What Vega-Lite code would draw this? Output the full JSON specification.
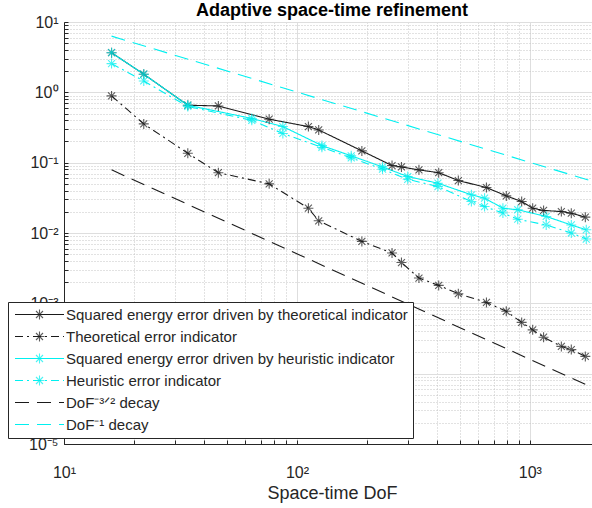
{
  "$schema": "https://vega.github.io/schema/vega-lite/v6.json",
  "width": 536,
  "height": 422,
  "autosize": {"type": "none"},
  "padding": {"left": 64, "top": 22, "right": 0, "bottom": 64},
  "background": "white",
  "config": {"view": {"stroke": "#262626", "strokeWidth": 1}, "font": "Liberation Sans"},
  "title": {"text": "Adaptive space-time refinement", "fontSize": 18, "fontWeight": "bold", "font": "Liberation Sans", "color": "#000000", "anchor": "middle", "baseline": "alphabetic", "offset": 1, "dy": 21, "frame": "group"},
  "data": {"values": [
    {"s": "Squared energy error driven by theoretical indicator", "x": 16, "y": 3.66},
    {"s": "Squared energy error driven by theoretical indicator", "x": 22, "y": 1.81},
    {"s": "Squared energy error driven by theoretical indicator", "x": 34, "y": 0.656},
    {"s": "Squared energy error driven by theoretical indicator", "x": 46, "y": 0.64},
    {"s": "Squared energy error driven by theoretical indicator", "x": 76, "y": 0.415},
    {"s": "Squared energy error driven by theoretical indicator", "x": 112, "y": 0.326},
    {"s": "Squared energy error driven by theoretical indicator", "x": 124, "y": 0.292},
    {"s": "Squared energy error driven by theoretical indicator", "x": 190, "y": 0.147},
    {"s": "Squared energy error driven by theoretical indicator", "x": 256, "y": 0.091},
    {"s": "Squared energy error driven by theoretical indicator", "x": 281, "y": 0.087},
    {"s": "Squared energy error driven by theoretical indicator", "x": 334, "y": 0.079},
    {"s": "Squared energy error driven by theoretical indicator", "x": 406, "y": 0.072},
    {"s": "Squared energy error driven by theoretical indicator", "x": 493, "y": 0.0557},
    {"s": "Squared energy error driven by theoretical indicator", "x": 651, "y": 0.0443},
    {"s": "Squared energy error driven by theoretical indicator", "x": 792, "y": 0.0337},
    {"s": "Squared energy error driven by theoretical indicator", "x": 922, "y": 0.028},
    {"s": "Squared energy error driven by theoretical indicator", "x": 1028, "y": 0.0225},
    {"s": "Squared energy error driven by theoretical indicator", "x": 1145, "y": 0.0209},
    {"s": "Squared energy error driven by theoretical indicator", "x": 1365, "y": 0.0202},
    {"s": "Squared energy error driven by theoretical indicator", "x": 1506, "y": 0.0191},
    {"s": "Squared energy error driven by theoretical indicator", "x": 1730, "y": 0.0168},
    {"s": "Theoretical error indicator", "x": 16, "y": 0.89},
    {"s": "Theoretical error indicator", "x": 22, "y": 0.356},
    {"s": "Theoretical error indicator", "x": 34, "y": 0.136},
    {"s": "Theoretical error indicator", "x": 46, "y": 0.072},
    {"s": "Theoretical error indicator", "x": 76, "y": 0.05},
    {"s": "Theoretical error indicator", "x": 112, "y": 0.0225},
    {"s": "Theoretical error indicator", "x": 124, "y": 0.0149},
    {"s": "Theoretical error indicator", "x": 190, "y": 0.0076},
    {"s": "Theoretical error indicator", "x": 256, "y": 0.0052},
    {"s": "Theoretical error indicator", "x": 281, "y": 0.0038},
    {"s": "Theoretical error indicator", "x": 334, "y": 0.00229},
    {"s": "Theoretical error indicator", "x": 406, "y": 0.0018},
    {"s": "Theoretical error indicator", "x": 493, "y": 0.00137},
    {"s": "Theoretical error indicator", "x": 651, "y": 0.00103},
    {"s": "Theoretical error indicator", "x": 792, "y": 0.00077},
    {"s": "Theoretical error indicator", "x": 922, "y": 0.000536},
    {"s": "Theoretical error indicator", "x": 1028, "y": 0.00042},
    {"s": "Theoretical error indicator", "x": 1145, "y": 0.00033},
    {"s": "Theoretical error indicator", "x": 1365, "y": 0.000244},
    {"s": "Theoretical error indicator", "x": 1506, "y": 0.00022},
    {"s": "Theoretical error indicator", "x": 1730, "y": 0.000176},
    {"s": "Squared energy error driven by heuristic indicator", "x": 16, "y": 3.66},
    {"s": "Squared energy error driven by heuristic indicator", "x": 22, "y": 1.81},
    {"s": "Squared energy error driven by heuristic indicator", "x": 34, "y": 0.656},
    {"s": "Squared energy error driven by heuristic indicator", "x": 64, "y": 0.425},
    {"s": "Squared energy error driven by heuristic indicator", "x": 87, "y": 0.326},
    {"s": "Squared energy error driven by heuristic indicator", "x": 128, "y": 0.175},
    {"s": "Squared energy error driven by heuristic indicator", "x": 171, "y": 0.125},
    {"s": "Squared energy error driven by heuristic indicator", "x": 233, "y": 0.087},
    {"s": "Squared energy error driven by heuristic indicator", "x": 299, "y": 0.0635},
    {"s": "Squared energy error driven by heuristic indicator", "x": 403, "y": 0.051},
    {"s": "Squared energy error driven by heuristic indicator", "x": 561, "y": 0.0349},
    {"s": "Squared energy error driven by heuristic indicator", "x": 639, "y": 0.0313},
    {"s": "Squared energy error driven by heuristic indicator", "x": 766, "y": 0.0225},
    {"s": "Squared energy error driven by heuristic indicator", "x": 887, "y": 0.0214},
    {"s": "Squared energy error driven by heuristic indicator", "x": 1175, "y": 0.0172},
    {"s": "Squared energy error driven by heuristic indicator", "x": 1506, "y": 0.013},
    {"s": "Squared energy error driven by heuristic indicator", "x": 1746, "y": 0.0111},
    {"s": "Heuristic error indicator", "x": 16, "y": 2.56},
    {"s": "Heuristic error indicator", "x": 22, "y": 1.45},
    {"s": "Heuristic error indicator", "x": 34, "y": 0.63},
    {"s": "Heuristic error indicator", "x": 64, "y": 0.4},
    {"s": "Heuristic error indicator", "x": 87, "y": 0.26},
    {"s": "Heuristic error indicator", "x": 128, "y": 0.165},
    {"s": "Heuristic error indicator", "x": 171, "y": 0.117},
    {"s": "Heuristic error indicator", "x": 233, "y": 0.081},
    {"s": "Heuristic error indicator", "x": 299, "y": 0.058},
    {"s": "Heuristic error indicator", "x": 403, "y": 0.0457},
    {"s": "Heuristic error indicator", "x": 561, "y": 0.028},
    {"s": "Heuristic error indicator", "x": 639, "y": 0.0238},
    {"s": "Heuristic error indicator", "x": 766, "y": 0.0192},
    {"s": "Heuristic error indicator", "x": 887, "y": 0.0157},
    {"s": "Heuristic error indicator", "x": 1175, "y": 0.013},
    {"s": "Heuristic error indicator", "x": 1506, "y": 0.01},
    {"s": "Heuristic error indicator", "x": 1746, "y": 0.0082},
    {"s": "DoF⁻³ᐟ² decay", "x": 16, "y": 0.079},
    {"s": "DoF⁻³ᐟ² decay", "x": 2000, "y": 0.0000566},
    {"s": "DoF⁻¹ decay", "x": 16, "y": 6.3},
    {"s": "DoF⁻¹ decay", "x": 2000, "y": 0.0505}
  ]},
  "layer": [
    {
      "mark": {"type": "line", "strokeWidth": 1.1, "clip": true},
      "encoding": {
        "x": {"field": "x", "type": "quantitative",
          "scale": {"type": "log", "domain": [10, 2000], "nice": false},
          "axis": {
            "values": [10,20,30,40,50,60,70,80,90,100,200,300,400,500,600,700,800,900,1000,2000],
            "labelExpr": "abs(log(datum.value)/LN10 - round(log(datum.value)/LN10)) < 0.001 ? '10' + ['⁻⁵','⁻⁴','⁻³','⁻²','⁻¹','⁰','¹','²','³','⁴'][round(log(datum.value)/LN10)+5] : ''",
            "title": "Space-time DoF", "titleFontSize": 18, "titleFont": "Liberation Sans", "titleColor": "#262626", "titleFontWeight": "normal",
            "titleY": 54, "titleBaseline": "alphabetic",
            "labelFontSize": 16, "labelFont": "Liberation Sans", "labelColor": "#262626", "labelBaseline": "alphabetic", "labelPadding": 37,
            "labelFlush": false, "labelOverlap": false,
            "tickSize": -4, "tickColor": "#262626", "domainColor": "#262626",
            "grid": true,
            "gridColor": {"condition": {"test": "abs(log(datum.value)/LN10 - round(log(datum.value)/LN10)) < 0.001", "value": "#dedede"}, "value": "#c4c4c4"},
            "gridDash": {"condition": {"test": "abs(log(datum.value)/LN10 - round(log(datum.value)/LN10)) < 0.001", "value": []}, "value": [1, 2]}
          }
        },
        "y": {"field": "y", "type": "quantitative",
          "scale": {"type": "log", "domain": [0.00001, 10], "nice": false},
          "axis": {
            "values": [1e-5,2e-5,3e-5,4e-5,5e-5,6e-5,7e-5,8e-5,9e-5,1e-4,2e-4,3e-4,4e-4,5e-4,6e-4,7e-4,8e-4,9e-4,1e-3,2e-3,3e-3,4e-3,5e-3,6e-3,7e-3,8e-3,9e-3,0.01,0.02,0.03,0.04,0.05,0.06,0.07,0.08,0.09,0.1,0.2,0.3,0.4,0.5,0.6,0.7,0.8,0.9,1,2,3,4,5,6,7,8,9,10],
            "labelExpr": "abs(log(datum.value)/LN10 - round(log(datum.value)/LN10)) < 0.001 ? '10' + ['⁻⁵','⁻⁴','⁻³','⁻²','⁻¹','⁰','¹','²','³','⁴'][round(log(datum.value)/LN10)+5] : ''",
            "title": null,
            "labelFontSize": 16, "labelFont": "Liberation Sans", "labelColor": "#262626", "labelPadding": 10,
            "labelFlush": false, "labelOverlap": false,
            "tickSize": -4, "tickColor": "#262626", "domainColor": "#262626",
            "grid": true,
            "gridColor": {"condition": {"test": "abs(log(datum.value)/LN10 - round(log(datum.value)/LN10)) < 0.001", "value": "#dedede"}, "value": "#c4c4c4"},
            "gridDash": {"condition": {"test": "abs(log(datum.value)/LN10 - round(log(datum.value)/LN10)) < 0.001", "value": []}, "value": [1, 2]}
          }
        },
        "color": {"field": "s", "type": "nominal",
          "scale": {"domain": ["Squared energy error driven by theoretical indicator", "Theoretical error indicator", "Squared energy error driven by heuristic indicator", "Heuristic error indicator", "DoF⁻³ᐟ² decay", "DoF⁻¹ decay"],
                    "range": ["#1a1a1a", "#1a1a1a", "#00f0f0", "#00f0f0", "#1a1a1a", "#00f0f0"]},
          "legend": {"title": null, "orient": "none", "legendX": -56, "legendY": 280, "zindex": 0,
            "fillColor": "white", "strokeColor": "#262626", "padding": 5,
            "labelFont": "Liberation Sans", "labelFontSize": 15, "labelColor": "#262626", "labelLimit": 0,
            "rowPadding": 6, "symbolType": "M-4.9,0H4.9", "symbolSize": 100, "symbolStrokeWidth": 1.1,
            "symbolOffset": 19, "labelOffset": 19}
        },
        "strokeDash": {"field": "s", "type": "nominal",
          "scale": {"domain": ["Squared energy error driven by theoretical indicator", "Theoretical error indicator", "Squared energy error driven by heuristic indicator", "Heuristic error indicator", "DoF⁻³ᐟ² decay", "DoF⁻¹ decay"],
                    "range": [[1, 0], [8, 4, 2, 4], [1, 0], [8, 4, 2, 4], [14, 8], [14, 8]]},
          "legend": {"title": null, "orient": "none", "legendX": -56, "legendY": 280, "zindex": 0,
            "fillColor": "white", "strokeColor": "#262626", "padding": 5,
            "labelFont": "Liberation Sans", "labelFontSize": 15, "labelColor": "#262626", "labelLimit": 0,
            "rowPadding": 6, "symbolType": "M-4.9,0H4.9", "symbolSize": 100, "symbolStrokeWidth": 1.1,
            "symbolOffset": 19, "labelOffset": 19}
        }
      }
    },
    {
      "transform": [{"filter": "indexof(datum.s, 'decay') < 0"}],
      "mark": {"type": "point", "shape": "M0,-1L0,1M-1,0L1,0M-0.7,-0.7L0.7,0.7M-0.7,0.7L0.7,-0.7", "filled": false, "size": 100, "strokeWidth": 1.1, "clip": true},
      "encoding": {
        "x": {"field": "x", "type": "quantitative"},
        "y": {"field": "y", "type": "quantitative"},
        "color": {"field": "s", "type": "nominal",
          "scale": {"domain": ["Squared energy error driven by theoretical indicator", "Theoretical error indicator", "Squared energy error driven by heuristic indicator", "Heuristic error indicator", "DoF⁻³ᐟ² decay", "DoF⁻¹ decay"],
                    "range": ["#1a1a1a", "#1a1a1a", "#00f0f0", "#00f0f0", "rgba(0,0,0,0)", "rgba(0,0,0,0)"]},
          "legend": {"title": null, "orient": "none", "legendX": -56, "legendY": 280, "zindex": 1,
            "padding": 5,
            "labelFont": "Liberation Sans", "labelFontSize": 15, "labelOpacity": 0, "labelLimit": 0,
            "rowPadding": 6, "symbolType": "M0,-1L0,1M-1,0L1,0M-0.7,-0.7L0.7,0.7M-0.7,0.7L0.7,-0.7", "symbolSize": 100, "symbolStrokeWidth": 1.1,
            "symbolOffset": 19, "labelOffset": 19}
        }
      }
    }
  ],
  "resolve": {"scale": {"color": "independent", "strokeDash": "independent"}}
}
